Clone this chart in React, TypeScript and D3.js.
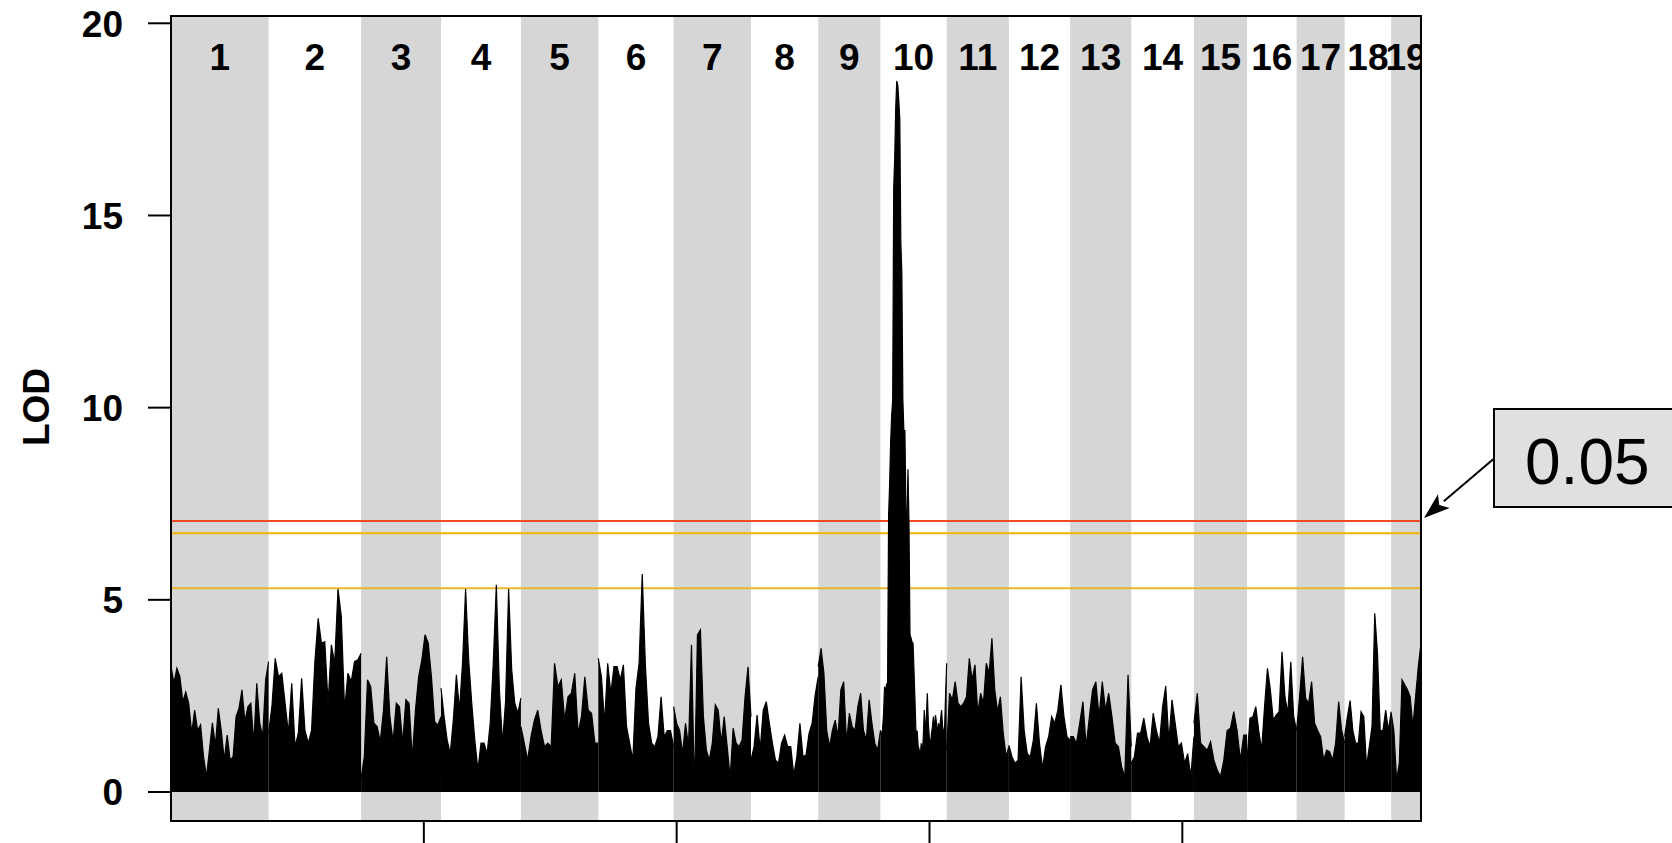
import React from 'react';
import * as d3 from 'd3';

const chrNames = ['1','2','3','4','5','6','7','8','9','10','11','12','13','14','15','16','17','18','19'];
const chrLengths = [193, 183, 158, 158, 153, 149, 153, 133, 123, 131, 123, 121, 121, 124, 105, 98, 95, 92, 59];

// LOD profile per chromosome, markers evenly spread along each chromosome
const lodChr1 = [3.26, 2.83, 3.22, 3.0, 2.35, 2.6, 2.3, 1.53, 2.13, 1.6, 1.75, 0.92, 0.4, 1.1, 1.8, 1.2, 2.18, 1.6, 0.83, 1.48, 0.83, 0.92, 1.96, 2.18, 2.66, 1.83, 2.22, 2.31, 1.27, 2.83, 1.8, 1.44, 2.92, 3.39];
const lodChr2 = [1.53, 2.22, 3.48, 3.0, 3.09, 2.31, 1.53, 2.83, 1.18, 1.53, 2.96, 1.6, 1.27, 1.6, 3.39, 4.52, 3.87, 3.91, 2.31, 3.83, 3.35, 5.28, 4.57, 2.13, 3.09, 2.87, 3.39, 3.44, 3.61];
const lodChr3 = [0.36, 0.92, 2.92, 2.74, 1.79, 1.7, 1.31, 2.13, 3.52, 1.96, 1.31, 2.31, 2.22, 1.27, 2.4, 2.31, 0.88, 2.13, 3.0, 3.44, 4.09, 3.87, 3.0, 1.83, 1.74, 1.96];
const lodChr4 = [2.7, 1.96, 1.35, 1.0, 1.87, 3.05, 2.13, 3.35, 5.28, 3.44, 2.31, 1.35, 0.57, 1.27, 1.27, 1.0, 1.79, 3.35, 5.39, 2.66, 1.27, 2.35, 5.28, 3.18, 2.31, 2.05, 2.44];
const lodChr5 = [1.7, 1.27, 0.83, 1.44, 1.87, 2.13, 1.6, 1.18, 1.27, 1.18, 3.35, 2.74, 2.92, 1.87, 2.48, 2.57, 3.09, 1.53, 1.96, 3.0, 2.13, 2.05, 1.27, 1.27];
const lodChr6 = [3.48, 3.0, 1.79, 3.35, 2.57, 3.26, 3.26, 2.92, 3.31, 1.7, 1.27, 0.83, 2.7, 3.35, 5.67, 3.31, 1.79, 1.27, 1.18, 1.44, 2.48, 1.44, 1.6, 1.6, 1.18];
const lodChr7 = [2.22, 1.79, 1.6, 1.0, 1.79, 1.18, 3.83, 0.0, 4.09, 4.22, 1.96, 1.09, 0.83, 1.27, 2.27, 2.13, 1.27, 1.96, 1.18, 0.36, 1.66, 1.27, 1.18, 1.35, 2.48, 3.26, 1.96];
const lodChr8 = [0.83, 1.18, 2.0, 1.09, 2.13, 2.35, 1.79, 1.27, 0.83, 0.75, 1.27, 1.48, 1.18, 1.18, 0.44, 0.92, 1.79, 0.92, 0.96, 1.53, 1.79, 2.53, 3.0];
const lodChr9 = [3.26, 3.74, 3.09, 1.6, 1.18, 1.6, 1.87, 1.44, 2.66, 2.87, 1.27, 2.05, 1.7, 1.6, 2.22, 2.57, 1.6, 1.35, 2.4, 1.79, 1.27, 1.09, 1.6];
const lodChr10 = [1.6, 1.5, 1.6, 2.0, 2.74, 2.6, 2.8, 2.83, 7.2, 8.0, 9.1, 9.8, 10.2, 15.7, 16.5, 17.8, 18.5, 18.4, 18.0, 17.5, 14.3, 13.5, 10.2, 9.4, 9.4, 7.3, 7.0, 8.4, 7.0, 4.1, 4.0, 3.9, 3.87, 3.1, 2.3, 1.4, 1.6, 1.2, 1.1, 0.9, 1.27, 1.0, 1.4, 2.13, 1.6, 1.9, 2.57, 1.8, 1.4, 1.18, 1.5, 1.7, 1.96, 1.6, 2.0, 1.8, 1.5, 1.79, 1.6, 1.9, 2.13, 1.7, 1.5, 1.7, 2.6, 3.35];
const lodChr11 = [1.09, 2.57, 2.4, 2.87, 2.31, 2.22, 2.31, 2.48, 3.48, 2.92, 3.31, 2.05, 2.57, 2.31, 3.35, 3.09, 4.0, 2.66, 2.09, 2.48, 1.53, 0.92, 1.18];
const lodChr12 = [1.22, 0.92, 0.75, 0.83, 3.0, 1.6, 1.0, 0.92, 1.35, 2.31, 1.27, 0.62, 1.18, 1.44, 1.96, 1.79, 2.13, 2.79, 1.96, 1.44, 1.35];
const lodChr13 = [1.44, 1.44, 1.27, 1.79, 2.35, 1.18, 1.96, 2.66, 2.87, 1.96, 2.87, 2.13, 2.57, 1.96, 1.27, 1.18, 0.66, 0.4, 3.05, 1.18];
const lodChr14 = [0.75, 0.92, 1.53, 1.53, 1.92, 1.44, 1.18, 2.05, 1.6, 1.27, 2.22, 2.76, 1.31, 2.4, 1.79, 1.18, 1.27, 0.75, 1.0, 0.4, 1.44];
const lodChr15 = [1.79, 2.57, 1.27, 1.18, 1.09, 1.31, 0.83, 0.57, 0.4, 0.83, 1.6, 1.66, 2.09, 1.6, 0.83, 1.48, 1.48];
const lodChr16 = [0.83, 1.92, 1.96, 2.22, 1.6, 1.09, 2.22, 3.22, 2.66, 1.87, 2.0, 2.09, 3.65, 2.48, 2.05, 3.39, 1.96, 1.6];
const lodChr17 = [1.6, 2.48, 3.52, 2.44, 2.31, 2.87, 1.79, 1.6, 1.44, 0.83, 1.09, 1.05, 0.83, 1.27, 2.35, 1.6, 1.27];
const lodChr18 = [1.44, 1.96, 2.38, 1.6, 1.27, 1.27, 2.09, 1.96, 0.66, 1.18, 1.7, 4.65, 3.61, 1.6, 1.6, 2.13, 1.6, 2.09];
const lodChr19 = [2.05, 1.6, 0.31, 0.75, 2.92, 2.79, 2.66, 2.48, 1.7, 2.48, 3.26, 3.87];

const lodByChr = [lodChr1, lodChr2, lodChr3, lodChr4, lodChr5, lodChr6, lodChr7, lodChr8, lodChr9, lodChr10,
  lodChr11, lodChr12, lodChr13, lodChr14, lodChr15, lodChr16, lodChr17, lodChr18, lodChr19];

const yTicks = [0, 5, 10, 15, 20];
const xTicks = [500, 1000, 1500, 2000];
const thresholds = [7.05, 6.73, 5.3];
const thresholdColors = ['#ee4a26', '#f2b400', '#e9b62c'];
const annotationLabel = '0.05';

const FONT = '"Liberation Sans", Arial, sans-serif';

const App = () => {
  const W = 1672, H = 843;
  const left = 171, right = 1421, top = 16, bottom = 821;

  const total = d3.sum(chrLengths);
  const starts = chrLengths.map((_, i) => d3.sum(chrLengths.slice(0, i)));

  const x = d3.scaleLinear().domain([0, total]).range([left, right]);
  const y = d3.scaleLinear().domain([0, 20]).range([792, 23.3]);

  const areas = lodByChr.map((vals, c) => {
    const st = starts[c], len = chrLengths[c], n = vals.length;
    // markers run from the start to the end of each chromosome
    const pos = (i) => st + i * len / (n - 1);
    const area = d3.area<number>()
      .x((d, i) => x(pos(i)))
      .y0(y(0))
      .y1(d => y(d));
    const line = d3.line<number>()
      .x((d, i) => x(pos(i)))
      .y(d => y(d));
    return { area: area(vals), line: line(vals) };
  });

  // arrow from the annotation box to the threshold line end
  const a0 = [1493.5, 459], tip = [right + 3, y(thresholds[0]) - 3];
  const dx = tip[0] - a0[0], dy = tip[1] - a0[1];
  const L = Math.sqrt(dx * dx + dy * dy);
  const ux = dx / L, uy = dy / L;
  const hl = 26, hw = 9;
  const bx = tip[0] - hl * ux, by = tip[1] - hl * uy;
  const head = `M${tip[0]},${tip[1]} L${bx - hw * uy},${by + hw * ux} L${bx + 6 * ux},${by + 6 * uy} L${bx + hw * uy},${by - hw * ux} Z`;

  return (
    <svg width={W} height={H} style={{ position: 'absolute', left: 0, top: 0, background: '#fff' }}
      fontFamily={FONT}>
      <defs>
        <clipPath id="frameClip">
          <rect x={left} y={top} width={right - left} height={bottom - top} />
        </clipPath>
      </defs>

      {/* alternating chromosome bands */}
      {chrNames.map((c, i) => i % 2 === 0 ? (
        <rect key={'b' + c} x={x(starts[i])} y={top} width={x(starts[i] + chrLengths[i]) - x(starts[i])}
          height={bottom - top} fill="#d6d6d6" />
      ) : null)}

      {/* chromosome labels */}
      <g clipPath="url(#frameClip)">
        {chrNames.map((c, i) => (
          <text key={'l' + c} x={x(starts[i] + chrLengths[i] / 2)} y={70} textAnchor="middle"
            fontSize={37} fontWeight="bold">{c}</text>
        ))}
      </g>

      {/* threshold lines */}
      {thresholds.map((t, i) => (
        <line key={'t' + i} x1={left} x2={right} y1={y(t)} y2={y(t)} stroke={thresholdColors[i]} strokeWidth={2} />
      ))}

      {/* LOD profile */}
      <g clipPath="url(#frameClip)">
        {areas.map((p, i) => (
          <g key={'p' + i}>
            <path d={p.area} fill="#000" />
            <path d={p.line} fill="none" stroke="#000" strokeWidth={1.2} />
          </g>
        ))}
      </g>

      {/* frame */}
      <rect x={left} y={top} width={right - left} height={bottom - top} fill="none" stroke="#000" strokeWidth={2} />

      {/* y axis */}
      {yTicks.map(t => (
        <g key={'y' + t}>
          <line x1={148} x2={left} y1={y(t)} y2={y(t)} stroke="#000" strokeWidth={2} />
          <text x={123} y={y(t)} dy="0.36em" textAnchor="end" fontSize={37} fontWeight="bold">{t}</text>
        </g>
      ))}
      <text transform={`translate(49,407) rotate(-90)`} textAnchor="middle" fontSize={37} fontWeight="bold">LOD</text>

      {/* x axis ticks (labels fall below the visible area) */}
      {xTicks.map(t => (
        <line key={'x' + t} x1={x(t)} x2={x(t)} y1={bottom} y2={bottom + 30} stroke="#000" strokeWidth={2} />
      ))}

      {/* annotation */}
      <line x1={a0[0]} y1={a0[1]} x2={bx} y2={by} stroke="#000" strokeWidth={2} />
      <path d={head} fill="#000" />
      <rect x={1494} y={409} width={200} height={98} fill="#e0e0e0" stroke="#000" strokeWidth={2} />
      <text x={1525} y={484} fontSize={64}>{annotationLabel}</text>
    </svg>
  );
};

export default App;
